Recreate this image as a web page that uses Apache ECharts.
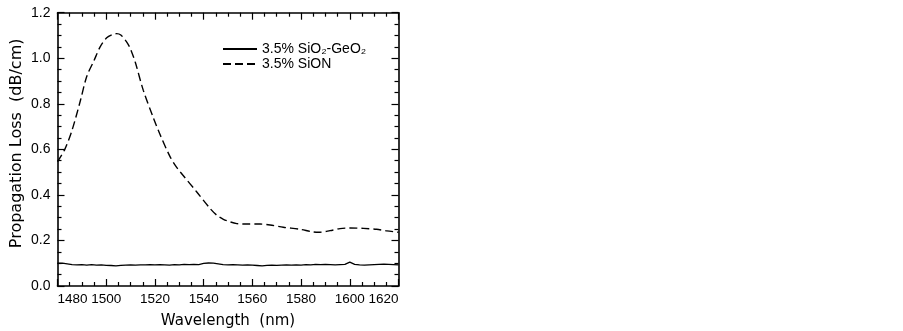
<!DOCTYPE html>
<html>
<head>
<meta charset="utf-8">
<script src="https://cdn.jsdelivr.net/npm/echarts@6/dist/echarts.min.js"></script>
<style>html,body{margin:0;padding:0;background:#fff}#c{width:903px;height:331px}</style>
</head>
<body>
<div id="c"></div>
<script>
const seriesNames = ['3.5% SiO₂-GeO₂', '3.5% SiON'];
const xTicks = [1480, 1500, 1520, 1540, 1560, 1580, 1600, 1620];
const yTicks = [0.0, 0.2, 0.4, 0.6, 0.8, 1.0, 1.2];

// SiO2-GeO2 (solid) wavelengths and values
const geoWl = [1480,1482,1484,1486,1488,1490,1492,1494,1496,1498,1500,1502,1504,1506,1508,1510,1512,1514,1516,1518,1520,1522,1524,1526,1528,1530,1532,1534,1536,1538,1540,1542,1544,1546,1548,1550,1552,1554,1556,1558,1560,1562,1564,1566,1568,1570,1572,1574,1576,1578,1580,1582,1584,1586,1588,1590,1592,1594,1596,1598,1600,1602,1604,1606,1608,1610,1612,1614,1616,1618,1620];
const geoLoss = [0.100,0.100,0.097,0.094,0.093,0.094,0.092,0.094,0.092,0.093,0.091,0.090,0.088,0.091,0.092,0.093,0.092,0.093,0.093,0.094,0.093,0.094,0.093,0.092,0.094,0.093,0.095,0.094,0.095,0.094,0.099,0.101,0.100,0.097,0.094,0.093,0.094,0.093,0.092,0.093,0.092,0.090,0.088,0.091,0.092,0.091,0.092,0.093,0.092,0.093,0.092,0.094,0.093,0.095,0.094,0.095,0.094,0.093,0.094,0.095,0.105,0.095,0.093,0.092,0.093,0.094,0.095,0.096,0.095,0.094,0.093];

// SiON (dashed) wavelengths and values
const sionWl = [1480,1483,1486,1489.3,1492,1495,1497.5,1500.2,1502.5,1504.3,1506,1508.5,1510,1512,1515.2,1519.3,1522.1,1526.2,1529,1531.6,1537.1,1542.6,1545.5,1548.1,1551,1553.6,1557.7,1563.2,1567.3,1572.7,1579.6,1585.1,1587.8,1591.9,1596,1600.1,1605.6,1611,1615.2,1620];
const sionLoss = [0.546,0.600,0.685,0.810,0.920,0.990,1.050,1.090,1.104,1.108,1.102,1.070,1.040,0.980,0.860,0.740,0.665,0.568,0.520,0.485,0.414,0.341,0.310,0.293,0.281,0.274,0.272,0.272,0.268,0.258,0.249,0.237,0.236,0.243,0.252,0.255,0.253,0.249,0.242,0.236];

const FONT = 'Liberation Sans';
const chart = echarts.init(document.getElementById('c'), null, {renderer: 'canvas'});

const baseX = {
  type: 'value', min: xTicks[0], max: xTicks[xTicks.length - 1], interval: 20,
  splitLine: {show: false},
  axisLine: {show: true, onZero: false, lineStyle: {color: '#000', width: 1.6}},
  axisTick: {show: true, inside: true, length: 7, lineStyle: {color: '#000', width: 1.2}},
  minorTick: {show: true, splitNumber: 4, length: 4, lineStyle: {color: '#000', width: 1.2}},
  minorSplitLine: {show: false}
};
const baseY = {
  type: 'value', min: yTicks[0], max: yTicks[yTicks.length - 1], interval: 0.2,
  splitLine: {show: false},
  axisLine: {show: true, onZero: false, lineStyle: {color: '#000', width: 1.6}},
  axisTick: {show: true, inside: true, length: 7, lineStyle: {color: '#000', width: 1.2}},
  minorTick: {show: true, splitNumber: 4, length: 4, lineStyle: {color: '#000', width: 1.2}},
  minorSplitLine: {show: false}
};

chart.setOption({
  animation: false,
  backgroundColor: '#fff',
  grid: {left: 57.5, right: 504.5, top: 12.7, bottom: 45, containLabel: false, outerBoundsMode: 'none'},
  legend: {
    left: 217, top: 37, orient: 'vertical', itemGap: 1, itemWidth: 34, itemHeight: 12,
    itemStyle: {opacity: 0},
    textStyle: {fontFamily: FONT, fontSize: 14, color: '#000'},
    data: seriesNames
  },
  xAxis: [
    Object.assign({}, baseX, {
      position: 'bottom',
      name: 'Wavelength  (nm)', nameLocation: 'middle', nameGap: 28,
      nameTextStyle: {fontFamily: 'DejaVu Sans', fontSize: 15, color: '#000'},
      axisLabel: {show: true, margin: 6, fontFamily: FONT, fontSize: 13.5, color: '#000',
        alignMinLabel: 'left', alignMaxLabel: 'right',
        formatter: v => String(v)}
    }),
    Object.assign({}, baseX, {position: 'top', axisLabel: {show: false}})
  ],
  yAxis: [
    Object.assign({}, baseY, {
      position: 'left',
      name: 'Propagation Loss  (dB/cm)', nameLocation: 'middle', nameGap: 33,
      nameTextStyle: {fontFamily: 'DejaVu Sans', fontSize: 16, color: '#000', padding: [0, 0, 0, 12]},
      axisLabel: {show: true, margin: 7, fontFamily: FONT, fontSize: 14, color: '#000',
        formatter: v => v.toFixed(1)}
    }),
    Object.assign({}, baseY, {position: 'right', axisLabel: {show: false}})
  ],
  series: [
    {
      name: seriesNames[0], type: 'line', xAxisIndex: 0, yAxisIndex: 0,
      data: geoWl.map((w, i) => [w, geoLoss[i]]),
      showSymbol: false, symbol: 'none',
      itemStyle: {color: '#000'},
      lineStyle: {color: '#000', width: 1.3, type: 'solid'}
    },
    {
      name: seriesNames[1], type: 'line', xAxisIndex: 0, yAxisIndex: 0,
      data: sionWl.map((w, i) => [w, sionLoss[i]]),
      showSymbol: false, symbol: 'none', smooth: 0.3,
      itemStyle: {color: '#000'},
      lineStyle: {color: '#000', width: 1.4, type: [8, 4]}
    }
  ]
});
</script>
</body>
</html>
